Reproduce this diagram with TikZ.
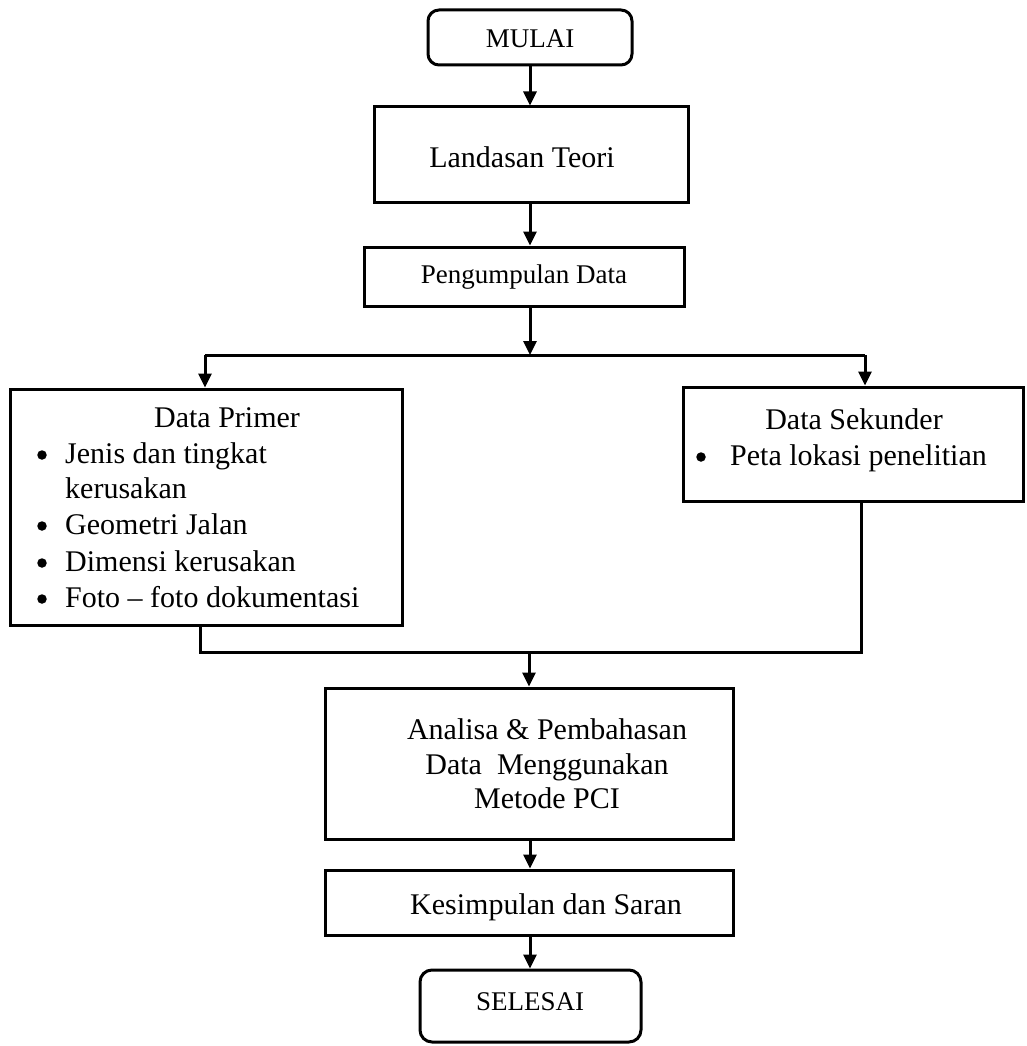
\documentclass[tikz,border=0pt]{standalone}
\usepackage{fontspec}
\setmainfont{Liberation Serif}
\usetikzlibrary{arrows.meta}
\begin{document}
\begin{tikzpicture}[x=1pt,y=-1pt,
  box/.style={draw, line width=3pt, inner sep=0pt},
  term/.style={box, rounded corners=11pt},
  conn/.style={line width=3pt},
  arr/.style={conn, -{Triangle[length=14pt,width=13pt]}},
  txt/.style={font=\fontsize{30}{34.5}\selectfont, inner sep=0pt, anchor=base},
  ltxt/.style={txt, anchor=base west},
  stxt/.style={font=\fontsize{27}{31}\selectfont, inner sep=0pt, anchor=base},
  dot/.style={circle, fill, inner sep=0pt, minimum size=9.5pt}
]
\useasboundingbox (0,0) rectangle (1027,1046);

% boxes
\node[term, minimum width=204pt, minimum height=55pt] (mulai) at (530,37.5) {};
\node[box, minimum width=314pt, minimum height=95pt] (teori) at (531,154.5) {};
\node[box, minimum width=320pt, minimum height=59pt] (kumpul) at (524,276.5) {};
\node[box, minimum width=392pt, minimum height=236pt] (primer) at (206,507) {};
\node[box, minimum width=340pt, minimum height=114pt] (sekunder) at (853,444) {};
\node[box, minimum width=408pt, minimum height=151pt] (analisa) at (529,763.5) {};
\node[box, minimum width=408pt, minimum height=65pt] (simpul) at (529,902.5) {};
\node[term, rounded corners=12pt, minimum width=221pt, minimum height=72pt] (selesai) at (530.5,1006) {};

% texts
\node[stxt] (tmulai) at (530,48) {MULAI};
\node[txt] (tteori) at (522,167) {Landasan Teori};
\node[stxt] (tkumpul) at (524,283) {Pengumpulan Data};

\node[txt] (tprimer) at (227,427) {Data Primer};
\node[dot] (b1) at (42,455) {};
\node[ltxt] (p1) at (65,463) {Jenis dan tingkat};
\node[ltxt] (p1b) at (65,498) {kerusakan};
\node[dot] (b2) at (42,526) {};
\node[ltxt] (p2) at (65,534) {Geometri Jalan};
\node[dot] (b3) at (42,563) {};
\node[ltxt] (p3) at (65,571) {Dimensi kerusakan};
\node[dot] (b4) at (42,599) {};
\node[ltxt] (p4) at (65,607) {Foto – foto dokumentasi};

\node[txt] (tsekunder) at (854,429) {Data Sekunder};
\node[dot] (b5) at (701,457) {};
\node[ltxt] (s1) at (730,465) {Peta lokasi penelitian};

\node[txt] (ta1) at (547,739) {Analisa \& Pembahasan};
\node[txt] (ta2) at (547,774) {Data~~Menggunakan};
\node[txt] (ta3) at (547,808) {Metode PCI};
\node[txt] (tsimpul) at (546,914) {Kesimpulan dan Saran};
\node[stxt] (tselesai) at (530,1010) {SELESAI};

% connectors
\coordinate (cx) at (530,0);
\coordinate (jl) at (205,355);
\coordinate (jm) at (530,355);
\coordinate (jr) at (865,355);
\coordinate (bl) at (200,652);
\coordinate (bm) at (529,652);
\coordinate (br) at (861,652);

\draw[arr] (mulai.south -| cx) -- (teori.north -| cx);
\draw[arr] (teori.south -| cx) -- (kumpul.north -| cx);
\draw[arr] (kumpul.south -| cx) -- (jm);
\draw[conn] (jl) -- (jr);
\draw[arr] (jl) -- (primer.north -| jl);
\draw[arr] (jr) -- (sekunder.north -| jr);
\draw[conn] (primer.south -| bl) -- (bl) -- (br) -- (sekunder.south -| br);
\draw[arr] (bm) -- (analisa.north -| bm);
\draw[arr] (analisa.south -| cx) -- (simpul.north -| cx);
\draw[arr] (simpul.south -| cx) -- (selesai.north -| cx);
\end{tikzpicture}
\end{document}
